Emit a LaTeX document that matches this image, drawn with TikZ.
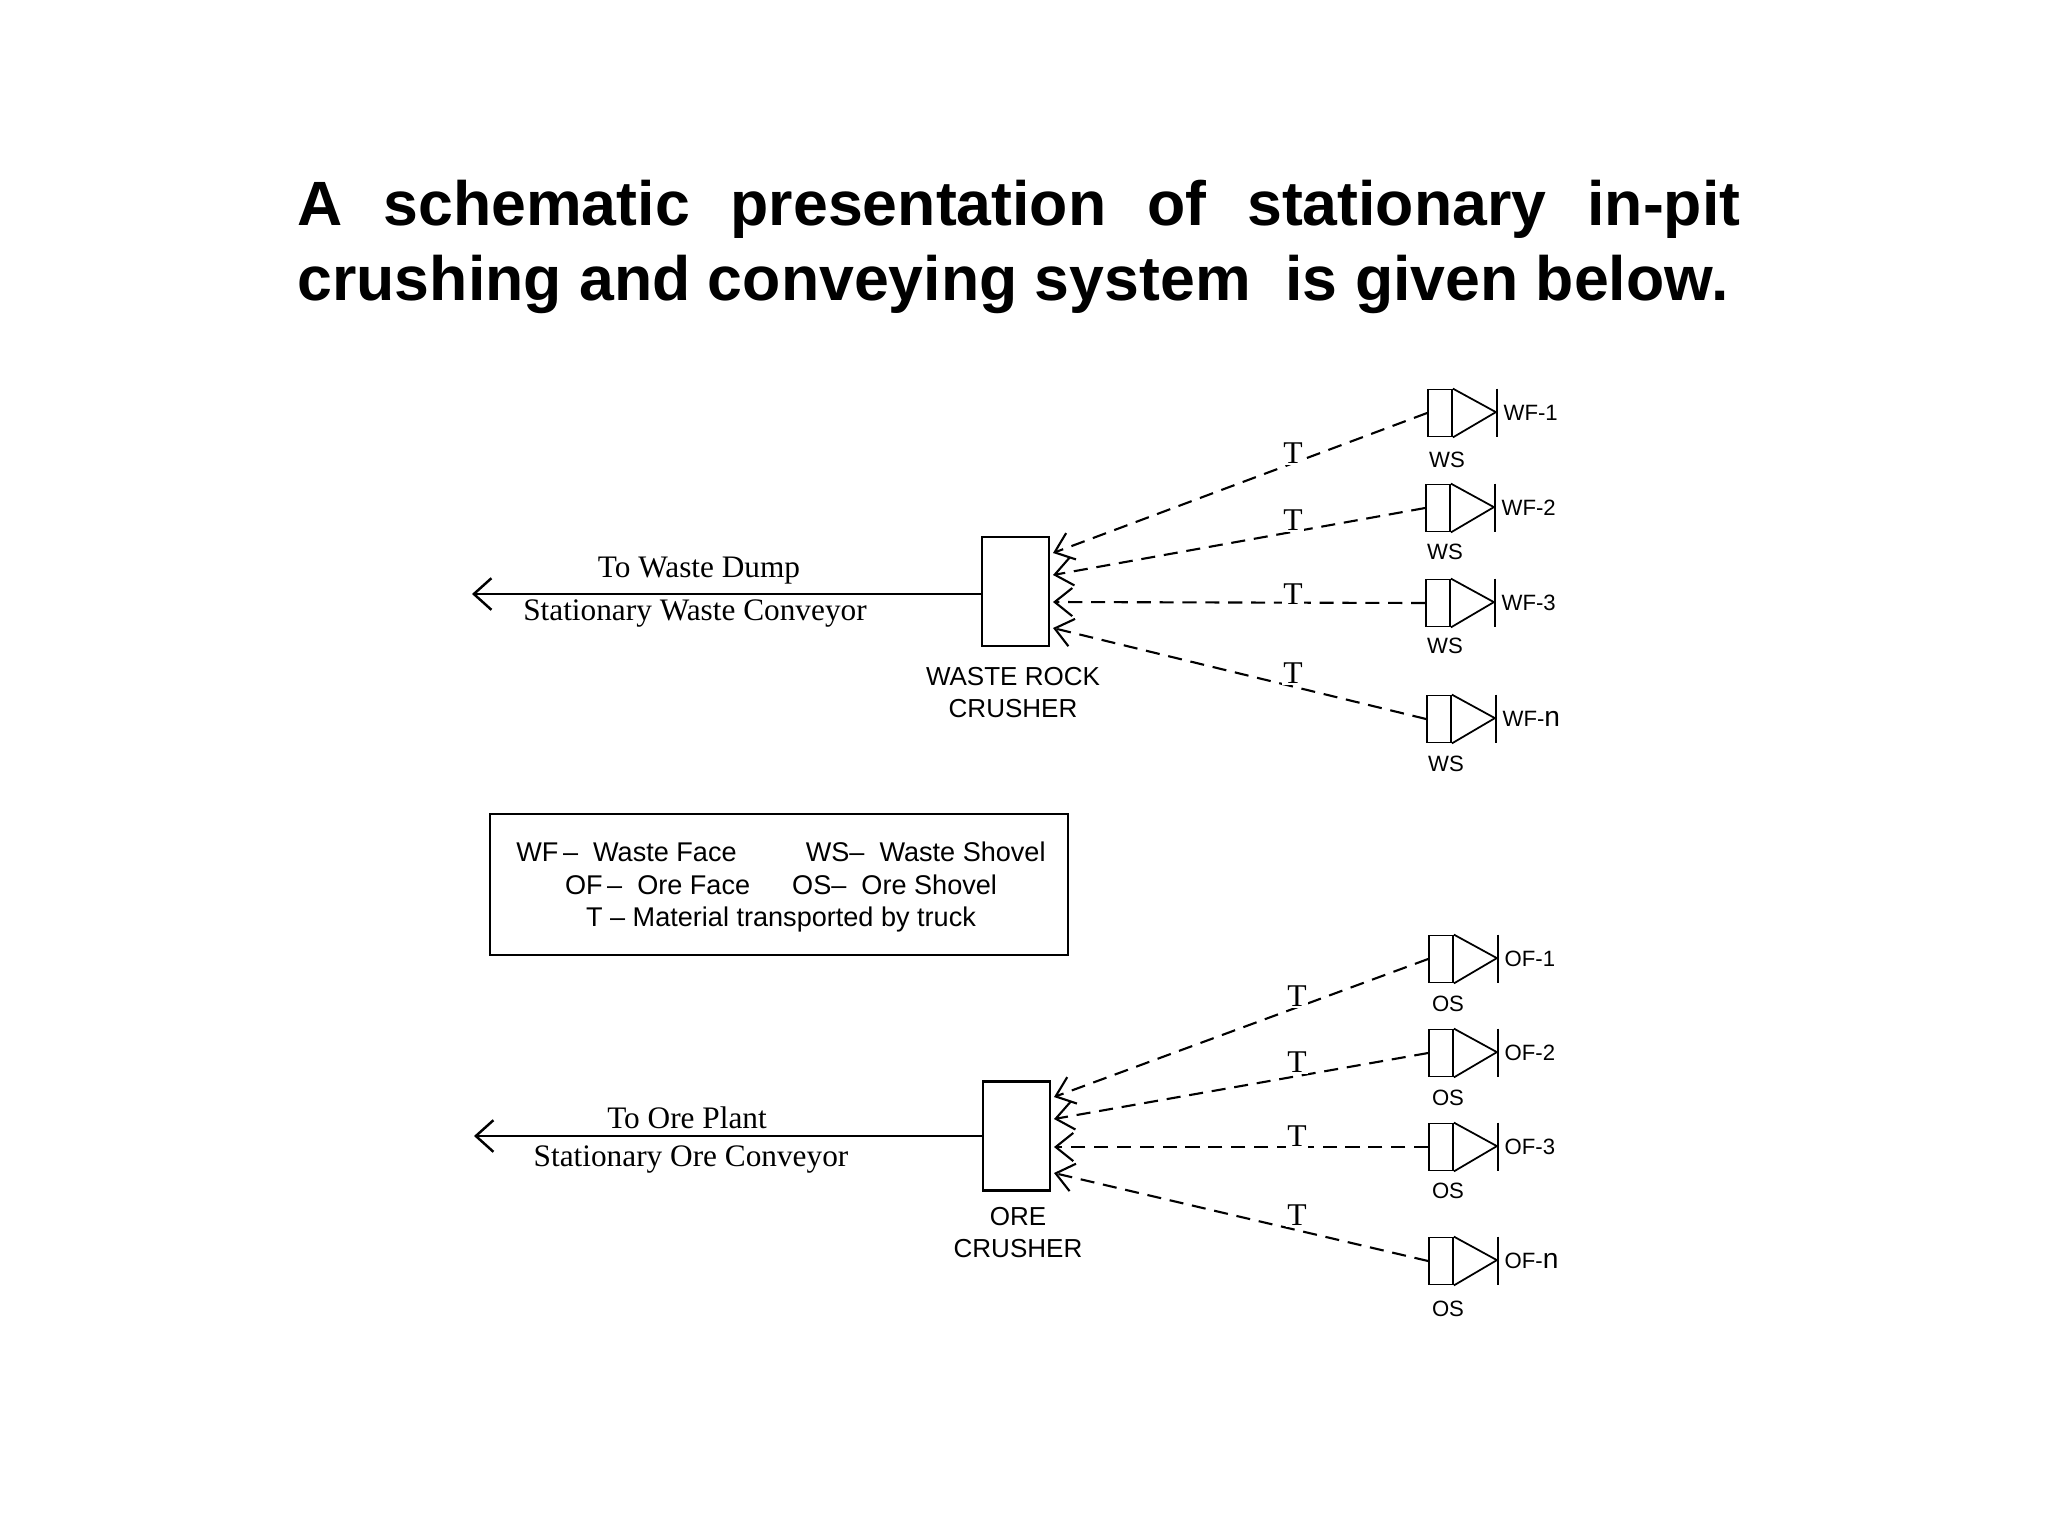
\documentclass[tikz,border=0pt]{standalone}
\usepackage{fontspec}
\setmainfont{Liberation Sans}
\newfontfamily\serif{Liberation Serif}
\usetikzlibrary{arrows.meta}
\begin{document}
\begin{tikzpicture}[x=0.01cm,y=-0.01cm,
  shov/.style={draw,line width=0.5pt,minimum width=0.24cm,minimum height=0.47cm,inner sep=0pt},
  crush/.style={draw,line width=0.6pt,minimum width=0.67cm,minimum height=1.09cm,inner sep=0pt},
  truck/.style={draw,line width=0.6pt,dash pattern=on 4pt off 2.5pt,-{Straight Barb[length=5pt,width=8pt,line width=0.6pt]}},
  conv/.style={draw,line width=0.7pt,-{Straight Barb[length=5pt,width=9pt,line width=0.7pt]}},
  lab/.style={font=\fontsize{6.3}{7}\selectfont,inner sep=0pt},
  flab/.style={font=\fontsize{6.3}{7}\selectfont,inner sep=0pt,anchor=west},
  clab/.style={font=\fontsize{7.4}{8.9}\selectfont,align=center,inner sep=0pt},
  slab/.style={font=\serif\fontsize{8.9}{10}\selectfont,inner sep=0pt},
  tlab/.style={font=\serif\fontsize{9}{11}\selectfont,inner sep=0pt}]
\useasboundingbox (0,0) rectangle (2048,1536);
\node[font=\bfseries\fontsize{17.8}{21.5}\selectfont,text width=14.42cm,align=justify,inner sep=0pt] (title) at (1019,247)
 {\hyphenpenalty=10000 A schematic presentation of stationary in-pit crushing and conveying system\ \ is given below.};

% Crushers
\node[crush] (wc) at (1015.5,591.5) {};
\node[crush] (oc) at (1016.5,1136) {};
\node[clab,anchor=north] (wcl) at (1013,667) {WASTE ROCK\\CRUSHER};
\node[clab,anchor=north] (ocl) at (1018,1207) {ORE\\CRUSHER};

% Conveyors
\coordinate (wend) at (472,594);
\coordinate (oend) at (474,1136);
\draw[conv] (wc.west |- wend) -- (wend);
\draw[conv] (oc.west |- oend) -- (oend);
\node[slab] (t1) at (699,571) {To Waste Dump};
\node[slab] (t2) at (695,614) {Stationary Waste Conveyor};
\node[slab] (t3) at (687,1118) {To Ore Plant};
\node[slab] (t4) at (691,1159) {Stationary Ore Conveyor};

% Shovels
\foreach \n/\x/\y/\f/\s/\sy in {w1/1440/413/WF-1/WS/460, w2/1438/508/WF-2/WS/552, w3/1438/603/WF-3/WS/646, w4/1439/719/WF-\fontsize{8}{9}\selectfont n/WS/764,
  o1/1441/959/OF-1/OS/1004, o2/1441/1053/OF-2/OS/1098, o3/1441/1147/OF-3/OS/1191, o4/1441/1261/OF-\fontsize{8}{9}\selectfont n/OS/1309}{
  \node[shov] (\n) at (\x,\y) {};
  \draw[line width=0.5pt] (\n.north east) -- ++(43,23.5) -- (\n.south east);
  \draw[line width=0.6pt] ([xshift=0.44cm]\n.north east) -- ([xshift=0.44cm]\n.south east);
  \node[flab] (\n f) at ([xshift=0.5cm]\n.east) {\f};
  \node[lab] (\n s) at (\x+7,\sy) {\s};
}

% Truck connectors
\foreach \n/\y in {w1/553, w2/575, w3/602, w4/628}{
  \coordinate (\n t) at (1053,\y);
  \draw[truck] (\n.west) -- (\n t);
}
\foreach \n/\y in {o1/1097, o2/1119, o3/1147, o4/1173}{
  \coordinate (\n t) at (1054,\y);
  \draw[truck] (\n.west) -- (\n t);
}
\foreach \i/\x/\y in {1/1293/453, 2/1293/520, 3/1293/594, 4/1293/673, 5/1297/996, 6/1297/1062, 7/1297/1136, 8/1297/1215}{
  \node[tlab,fill=white,inner sep=0.5pt] (T\i) at (\x,\y) {T};
}

% Legend
\node[draw,line width=0.6pt,minimum width=5.78cm,minimum height=1.41cm,inner sep=0pt] (leg) at (779,884.5) {};
\node[font=\fontsize{7.7}{9.2}\selectfont,align=center,inner sep=0pt] (legt) at (781,887)
 {WF\,--\ \ Waste Face\qquad\ \ WS--\ \ Waste Shovel\\ OF\,--\ \ Ore Face\quad\ \ OS--\ \ Ore Shovel\\ T -- Material transported by truck};
\end{tikzpicture}
\end{document}
